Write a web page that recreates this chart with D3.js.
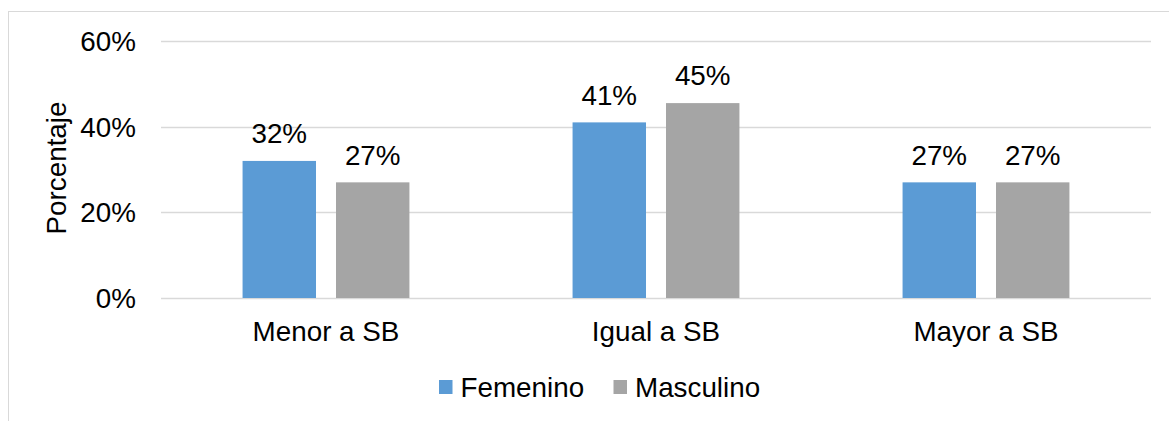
<!DOCTYPE html>
<html><head><meta charset="utf-8">
<script src="https://cdn.jsdelivr.net/npm/d3@7/dist/d3.min.js"></script>
<style>body{margin:0;background:#fff;} svg{display:block;font-family:"Liberation Sans",Arial,sans-serif;}</style>
</head><body>
<svg id="c" width="1169" height="421"></svg>
<script>
const categories = ["Menor a SB", "Igual a SB", "Mayor a SB"];
const seriesNames = ["Femenino", "Masculino"];
const femenino = [32, 41, 27];
const masculino = [27, 45.5, 27];
const valueLabels = [["32%", "41%", "27%"], ["27%", "45%", "27%"]];
const yTicks = [0, 20, 40, 60];
const colors = ["#5B9BD5", "#A5A5A5"];

(function () {
const svg = d3.select("#c");
const fs = 27.8;
const pL = 161, pR = 1151, pT = 41, pB = 298;

svg.append("rect").attr("x", 8.5).attr("y", 11.5).attr("width", 1200).attr("height", 500)
  .attr("fill", "#fff").attr("stroke", "#d9d9d9").attr("stroke-width", 1);

const x = d3.scaleBand().domain(categories).range([pL, pR]).paddingInner(0).paddingOuter(0);
const y = d3.scaleLinear().domain([0, 60]).range([pB, pT]);
const inner = d3.scaleBand().domain(seriesNames).range([0, x.bandwidth()]).paddingInner(0.214).paddingOuter(0.873);

svg.append("g").selectAll("line").data(yTicks).join("line")
  .attr("x1", pL).attr("x2", pR)
  .attr("y1", d => Math.round(y(d)) + 0.5).attr("y2", d => Math.round(y(d)) + 0.5)
  .attr("stroke", "#d9d9d9").attr("stroke-width", 1.3);

svg.append("g").selectAll("text").data(yTicks).join("text")
  .attr("x", 136).attr("y", d => y(d) + 10)
  .attr("text-anchor", "end").attr("font-size", fs).attr("fill", "#000")
  .text(d => d + "%");

svg.append("text").attr("transform", "translate(65.5,168) rotate(-90)")
  .attr("text-anchor", "middle").attr("font-size", fs).attr("fill", "#000").text("Porcentaje");

const series = [femenino, masculino];
series.forEach((vals, si) => {
  const g = svg.append("g");
  g.selectAll("rect").data(vals).join("rect")
    .attr("x", (d, i) => x(categories[i]) + inner(seriesNames[si]))
    .attr("width", inner.bandwidth())
    .attr("y", d => y(d)).attr("height", d => y(0) - y(d))
    .attr("fill", colors[si]);
  g.selectAll("text").data(vals).join("text")
    .attr("x", (d, i) => x(categories[i]) + inner(seriesNames[si]) + inner.bandwidth() / 2)
    .attr("y", d => y(d) - 17.7)
    .attr("text-anchor", "middle").attr("font-size", fs).attr("fill", "#000")
    .text((d, i) => valueLabels[si][i]);
});

svg.append("g").selectAll("text").data(categories).join("text")
  .attr("x", d => x(d) + x.bandwidth() / 2).attr("y", 341)
  .attr("text-anchor", "middle").attr("font-size", fs).attr("fill", "#000").text(d => d);

const legendX = [439, 613.5];
const lg = svg.append("g");
seriesNames.forEach((n, i) => {
  lg.append("rect").attr("x", legendX[i]).attr("y", 380).attr("width", 13.5).attr("height", 14)
    .attr("fill", colors[i]);
  lg.append("text").attr("x", legendX[i] + 21.5).attr("y", 396.5)
    .attr("font-size", fs).attr("fill", "#000").text(n);
});
})();
</script>
</body></html>
